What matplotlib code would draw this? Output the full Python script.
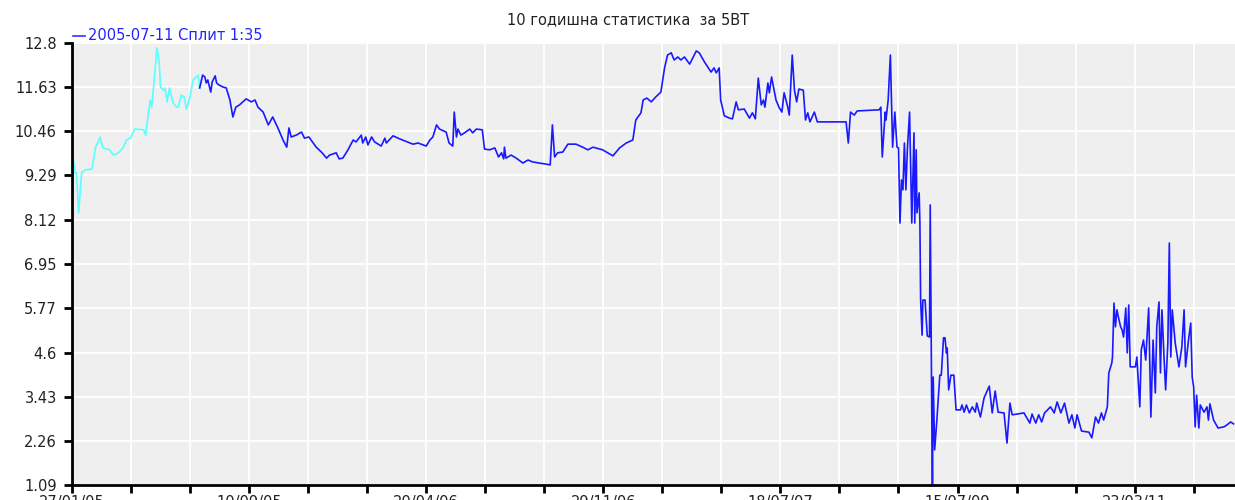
import matplotlib
matplotlib.use("Agg")
import matplotlib.pyplot as plt

# trading-day index / price
pre_days = [0, 1, 2, 4, 6, 9, 13, 18, 27, 32, 38, 42, 51, 56, 63, 69, 74, 79, 85,
            97, 100, 102, 106, 108, 111, 115, 118, 120, 124, 126, 129, 132, 137,
            142, 144, 148, 152, 155, 160, 164, 171, 173]
pre_price = [6.84, 8.83, 9.70, 9.36, 9.36, 8.30, 9.36, 9.44, 9.46, 10.04, 10.31,
             10.02, 9.97, 9.83, 9.89, 10.02, 10.23, 10.28, 10.52, 10.50, 10.36,
             10.71, 11.29, 11.10, 11.74, 12.67, 12.35, 11.63, 11.55, 11.61, 11.24,
             11.61, 11.21, 11.10, 11.10, 11.42, 11.37, 11.05, 11.37, 11.82, 11.95,
             11.61]

post_days = [173, 177, 180, 182, 184, 188, 190, 194, 196, 199, 205, 209, 214, 218,
             222, 227, 236, 243, 248, 252, 259, 266, 272, 279, 286, 291, 294, 297,
             304, 311, 315, 321, 331, 338, 345, 349, 358, 362, 367, 374, 381, 385,
             392, 394, 398, 401, 406, 410, 419, 424, 426, 435, 444, 462, 469, 480,
             485, 489, 494, 498, 507, 511, 516, 518, 521, 523, 527, 532, 539, 543,
             548, 556, 559, 566, 573, 578, 582, 585, 586, 588, 595, 602, 611, 618,
             624, 633, 643, 648, 651, 654, 658, 665, 672, 683, 692, 699, 706, 719,
             733, 742, 751, 760, 764, 771, 774, 779, 785, 791, 798, 803, 807, 812,
             816, 821, 825, 830, 837, 846, 850, 857, 866, 870, 873, 877, 879, 884,
             891, 895, 900, 903, 911, 918, 922, 926, 930, 934, 937, 939, 943, 945,
             948, 954, 958, 962, 965, 970, 972, 976, 979, 982, 985, 991, 994, 997,
             1000, 1006, 1010, 1049, 1052, 1055, 1060, 1064, 1094, 1096, 1098, 1102,
             1103, 1106, 1109, 1112, 1115, 1118, 1120, 1122, 1124, 1126, 1128, 1130,
             1132, 1135, 1138, 1141, 1142, 1144, 1145, 1148, 1149, 1150, 1152, 1153,
             1156, 1159, 1162, 1163, 1165, 1166, 1167, 1169, 1172, 1176, 1178, 1181,
             1183, 1185, 1186, 1188, 1191, 1195, 1198, 1204, 1206, 1209, 1212, 1216,
             1220, 1224, 1226, 1231, 1236, 1243, 1247, 1251, 1255, 1263, 1267, 1271,
             1274, 1281, 1290, 1298, 1301, 1306, 1310, 1314, 1318, 1326, 1331, 1335,
             1340, 1345, 1351, 1355, 1359, 1362, 1368, 1378, 1382, 1387, 1391, 1395,
             1398, 1403, 1405, 1409, 1410, 1412, 1414, 1416, 1418, 1421, 1423, 1425,
             1428, 1430, 1432, 1434, 1441, 1443, 1447, 1449, 1452, 1455, 1459, 1462,
             1465, 1468, 1470, 1473, 1475, 1477, 1480, 1482, 1485, 1487, 1489, 1491,
             1495, 1500, 1504, 1507, 1509, 1513, 1516, 1518, 1520, 1522, 1524, 1527,
             1529, 1534, 1538, 1540, 1542, 1547, 1553, 1561, 1565, 1570, 1574]
post_price = [11.61, 11.95, 11.90, 11.74, 11.82, 11.50, 11.77, 11.93, 11.74, 11.69,
              11.63, 11.61, 11.29, 10.84, 11.10, 11.16, 11.32, 11.24, 11.29, 11.10,
              10.97, 10.63, 10.84, 10.55, 10.23, 10.04, 10.55, 10.31, 10.36, 10.44,
              10.28, 10.31, 10.04, 9.91, 9.75, 9.83, 9.89, 9.73, 9.75, 9.97, 10.23,
              10.18, 10.36, 10.15, 10.31, 10.10, 10.31, 10.18, 10.07, 10.28, 10.15,
              10.34, 10.26, 10.12, 10.15, 10.07, 10.23, 10.31, 10.63, 10.52, 10.44,
              10.15, 10.07, 10.97, 10.31, 10.52, 10.36, 10.42, 10.52, 10.42, 10.52,
              10.50, 9.99, 9.97, 10.02, 9.78, 9.89, 9.73, 10.04, 9.75, 9.83, 9.75,
              9.62, 9.70, 9.65, 9.62, 9.59, 9.57, 10.63, 9.78, 9.89, 9.91, 10.12,
              10.12, 10.04, 9.97, 10.04, 9.97, 9.81, 10.02, 10.15, 10.23, 10.76,
              10.95, 11.29, 11.34, 11.24, 11.37, 11.50, 12.14, 12.48, 12.54, 12.35,
              12.43, 12.35, 12.43, 12.24, 12.59, 12.54, 12.30, 12.03, 12.14, 12.01,
              12.14, 11.29, 10.87, 10.81, 10.79, 11.24, 11.03, 11.05, 10.81, 10.95,
              10.79, 11.87, 11.16, 11.29, 11.10, 11.74, 11.48, 11.90, 11.29, 11.10,
              10.97, 11.48, 11.10, 10.89, 12.48, 11.55, 11.24, 11.58, 11.55, 10.76,
              10.95, 10.71, 10.97, 10.71, 10.71, 10.15, 10.97, 10.89, 11.00, 11.03,
              11.10, 9.78, 10.97, 10.76, 11.29, 12.48, 10.04, 10.97, 10.04, 10.02,
              8.03, 9.17, 8.91, 10.15, 8.91, 9.97, 10.97, 8.03, 10.42, 8.03, 9.97,
              8.30, 8.83, 8.03, 5.99, 5.06, 5.99, 5.99, 5.04, 5.01, 8.51, 3.16, 1.09,
              3.95, 2.02, 2.81, 4.00, 4.00, 4.99, 4.99, 4.59, 4.72, 3.61, 4.00, 4.00,
              3.08, 3.08, 3.21, 3.02, 3.21, 3.00, 3.16, 3.02, 3.26, 2.89, 3.40, 3.71,
              3.00, 3.58, 3.02, 3.00, 2.20, 3.26, 2.95, 2.97, 3.00, 2.73, 2.97, 2.73,
              2.95, 2.76, 3.00, 3.16, 3.00, 3.29, 3.00, 3.26, 2.73, 2.95, 2.60, 2.95,
              2.52, 2.49, 2.34, 2.89, 2.73, 3.00, 2.81, 3.16, 4.06, 4.32, 4.48, 5.91,
              5.28, 5.73, 5.54, 5.28, 5.20, 5.01, 5.78, 4.59, 5.86, 4.22, 4.22, 4.48,
              3.16, 4.67, 4.93, 4.40, 5.78, 2.89, 4.93, 3.53, 5.28, 5.94, 4.06, 5.73,
              4.40, 3.61, 4.85, 7.50, 4.48, 5.73, 4.85, 4.22, 4.75, 5.73, 4.22, 4.93,
              5.38, 3.95, 3.69, 2.63, 3.47, 2.60, 3.21, 3.02, 3.16, 2.81, 3.24, 2.81,
              2.60, 2.63, 2.68, 2.76, 2.71]

y_ticks = [1.09, 2.26, 3.43, 4.6, 5.77, 6.95, 8.12, 9.29, 10.46, 11.63, 12.8]
y_labels = ["1.09", "2.26", "3.43", "4.6", "5.77", "6.95", "8.12", "9.29",
            "10.46", "11.63", "12.8"]
x_ticks = list(range(0, 1576, 80))
x_dates = {0: "27/01/05", 240: "10/09/05", 480: "20/04/06", 720: "29/11/06",
           960: "18/07/07", 1200: "15/07/09", 1440: "23/03/11"}

fig = plt.figure(figsize=(12.35, 5.0), dpi=100)
ax = fig.add_axes([72 / 1235, 15 / 500, 1 - 72 / 1235, 442 / 500])
ax.set_facecolor("#efefef")

ax.plot(pre_days, pre_price, color="#5cffff", lw=1.2)
ax.plot(post_days, post_price, color="#1a1aff", lw=1.2)

ax.set_xlim(0, 1576)
ax.set_ylim(1.09, 12.8)
ax.set_yticks(y_ticks)
ax.set_yticklabels(y_labels)
ax.set_xticks(x_ticks)
ax.set_xticklabels([x_dates.get(t, "") for t in x_ticks])
ax.grid(True, color="white", lw=1.3)
ax.set_axisbelow(True)

for s in ["top", "right"]:
    ax.spines[s].set_visible(False)
for s in ["left", "bottom"]:
    ax.spines[s].set_linewidth(2)
    ax.spines[s].set_color("black")
ax.tick_params(axis="both", length=6, width=2, color="black",
               labelsize=10.5, labelcolor="#222222")
ax.tick_params(axis="y", pad=5)
ax.tick_params(axis="x", pad=1)

fig.text(628 / 1235, 1 - 20 / 500, "10 годишна статистика  за 5BT",
         ha="center", va="center", fontsize=10.5, color="#222222")
fig.lines.append(plt.Line2D([73 / 1235, 85 / 1235], [1 - 36 / 500, 1 - 36 / 500],
                            transform=fig.transFigure, color="#3333ff", lw=1.2))
fig.text(88 / 1235, 1 - 36 / 500, "2005-07-11 Сплит 1:35", ha="left",
         va="center", fontsize=10.5, color="#2222ff")

fig.savefig("out.png", dpi=100)
